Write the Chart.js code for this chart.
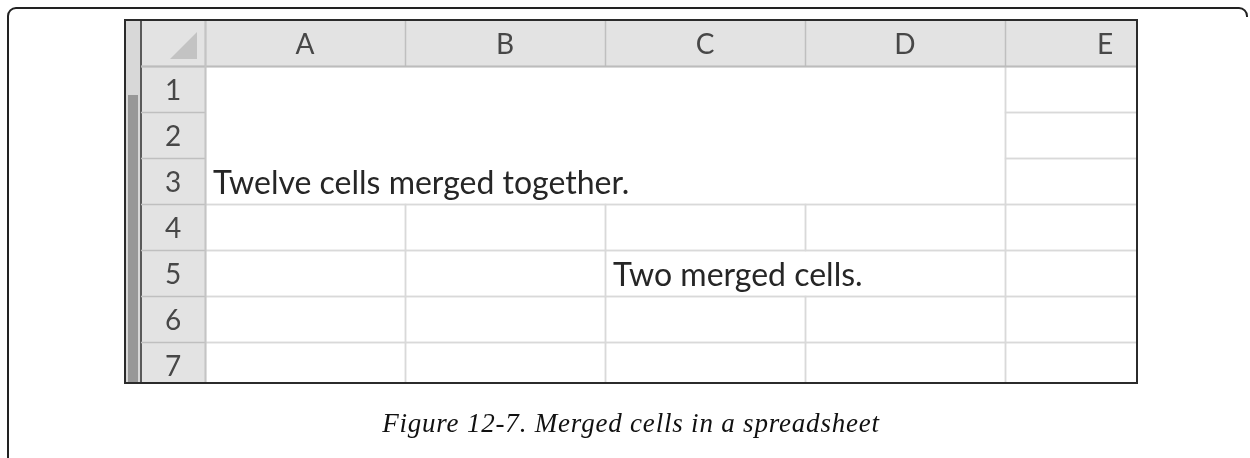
<!DOCTYPE html>
<html>
<head>
<meta charset="utf-8">
<script src="https://cdn.jsdelivr.net/npm/chart.js@4"></script>
<style>
    body { margin: 0; overflow: hidden; background: #fff; }
    #wrap { position: relative; width: 1250px; height: 458px; overflow: hidden; }
    #frame {
        position: absolute; left: 7px; top: 7px; width: 1237px; height: 600px;
        border: 2px solid #222; border-radius: 9px 9px 0 0;
    }
    #cover { position: absolute; left: 1238px; top: 17px; width: 12px; height: 450px; background: #fff; }
    #caption {
        position: absolute; left: 125px; width: 1012px; top: 408px;
        text-align: center; font: italic 27px "Liberation Serif", serif; color: #111;
        letter-spacing: 0.8px;
    }
    canvas { position: absolute; left: 0; top: 0; }
</style>
</head>
<body>
<div id="wrap">
    <div id="frame"></div>
    <div id="cover"></div>
    <canvas id="myChart" width="1250" height="458"></canvas>
    <div id="caption">Figure 12-7. Merged cells in a spreadsheet</div>
</div>
<script>
// spreadsheet contents
const columns = ["A", "B", "C", "D", "E"];
const rows = ["1", "2", "3", "4", "5", "6", "7"];
// merged ranges: [first col, last col, first row, last row] (0-based col, 1-based row)
const merges = [[0, 3, 1, 3], [2, 3, 5, 5]];
const mergeTexts = ["Twelve cells merged together.", "Two merged cells."];

// visible window (column / row units)
const xMin = -0.4, xMax = 4.66;
const yMin = 0, yMax = 7.89;
const headW = 0.32;   // width of the row header column
const thumbTop = 1.63;

function inMerge(c, r) {
    for (let m of merges) {
        if (c >= m[0] && c <= m[1] && r >= m[2] && r <= m[3]) return true;
    }
    return false;
}

const sheetPlugin = {
    id: "sheet",
    afterDatasetsDraw(chart) {
        const ctx = chart.ctx;
        const xs = chart.scales.x;
        const ys = chart.scales.y;
        const X = (v) => xs.getPixelForValue(v);
        const Y = (v) => ys.getPixelForValue(v);
        const a = chart.chartArea;

        function line(x1, y1, x2, y2, color, w) {
            ctx.strokeStyle = color;
            ctx.lineWidth = w;
            ctx.beginPath();
            ctx.moveTo(x1, y1);
            ctx.lineTo(x2, y2);
            ctx.stroke();
        }
        const snap = (p) => Math.round(p) + 0.5;

        ctx.save();
        ctx.beginPath();
        ctx.rect(a.left, a.top, a.right - a.left, a.bottom - a.top);
        ctx.clip();

        // cells background
        ctx.fillStyle = "#ffffff";
        ctx.fillRect(X(0), Y(1), X(xMax) - X(0), Y(yMax) - Y(1));

        // headers background
        ctx.fillStyle = "#e3e3e3";
        ctx.fillRect(X(-headW), Y(0), X(xMax) - X(-headW), Y(1) - Y(0));
        ctx.fillRect(X(-headW), Y(0), X(0) - X(-headW), Y(yMax) - Y(0));

        // scrollbar strip
        ctx.fillStyle = "#d8d8d8";
        ctx.fillRect(X(xMin), Y(0), X(-headW) - X(xMin), Y(yMax) - Y(0));
        ctx.fillStyle = "#989898";
        ctx.fillRect(X(xMin) + 3, Y(thumbTop), X(-headW) - X(xMin) - 6, Y(yMax) - Y(thumbTop));
        line(snap(X(-headW)) - 0.5, Y(0), snap(X(-headW)) - 0.5, Y(yMax), "#5a5a5a", 2);

        // cell grid
        const grid = "#d9d9d9";
        for (let r = 1; r <= rows.length; r++) {
            for (let c = 0; c < columns.length; c++) {
                if (inMerge(c, r)) continue;
                ctx.strokeStyle = grid;
                ctx.lineWidth = 1.5;
                ctx.strokeRect(snap(X(c)), snap(Y(r)), X(c + 1) - X(c), Y(r + 1) - Y(r));
            }
        }
        for (let m of merges) {
            ctx.strokeStyle = grid;
            ctx.lineWidth = 1.5;
            ctx.strokeRect(snap(X(m[0])), snap(Y(m[2])), X(m[1] + 1) - X(m[0]), Y(m[3] + 1) - Y(m[2]));
        }

        // header dividers
        const hd = "#bfbfbf";
        for (let c = 0; c < columns.length; c++) {
            line(snap(X(c)), Y(0), snap(X(c)), Y(1), hd, 1.5);
        }
        for (let r = 1; r <= rows.length; r++) {
            line(X(-headW), snap(Y(r)), X(0), snap(Y(r)), hd, 1.5);
        }
        line(X(-headW), snap(Y(1)), X(xMax), snap(Y(1)), "#bcbcbc", 2);
        line(snap(X(0)), Y(0), snap(X(0)), Y(yMax), "#c4c4c4", 2);

        // corner triangle
        ctx.fillStyle = "#c3c3c3";
        ctx.beginPath();
        ctx.moveTo(X(-0.175), Y(0.85));
        ctx.lineTo(X(-0.04), Y(0.85));
        ctx.lineTo(X(-0.04), Y(0.26));
        ctx.closePath();
        ctx.fill();

        // header labels
        ctx.fillStyle = "#474747";
        ctx.font = "28px Lato";
        ctx.textAlign = "center";
        ctx.textBaseline = "alphabetic";
        columns.forEach((name, c) => {
            ctx.fillText(name, X(c + 0.5), Y(0.5) + 11);
        });
        rows.forEach((name, i) => {
            ctx.fillText(name, X(-headW / 2), Y(i + 1.5) + 11);
        });

        // merged cell texts, bottom-left aligned
        ctx.fillStyle = "#262626";
        ctx.font = "32px Lato";
        ctx.textAlign = "left";
        merges.forEach((m, i) => {
            ctx.fillText(mergeTexts[i], X(m[0]) + 8, Y(m[3] + 1) - 10);
        });

        ctx.restore();

        // outer border
        ctx.strokeStyle = "#2b2b2b";
        ctx.lineWidth = 2;
        ctx.strokeRect(a.left, a.top, a.right - a.left, a.bottom - a.top);
    },
};

const config = {
    type: "scatter",
    data: { datasets: [{ data: [] }] },
    options: {
        responsive: false,
        animation: false,
        layout: { padding: { left: 125, top: 20, right: 113, bottom: 75 } },
        plugins: { legend: { display: false }, tooltip: { enabled: false } },
        scales: {
            x: { type: "linear", min: xMin, max: xMax, display: false },
            y: { type: "linear", min: yMin, max: yMax, reverse: true, display: false },
        },
    },
    plugins: [sheetPlugin],
};

let myChart = new Chart(document.getElementById("myChart"), config);
</script>
</body>
</html>
